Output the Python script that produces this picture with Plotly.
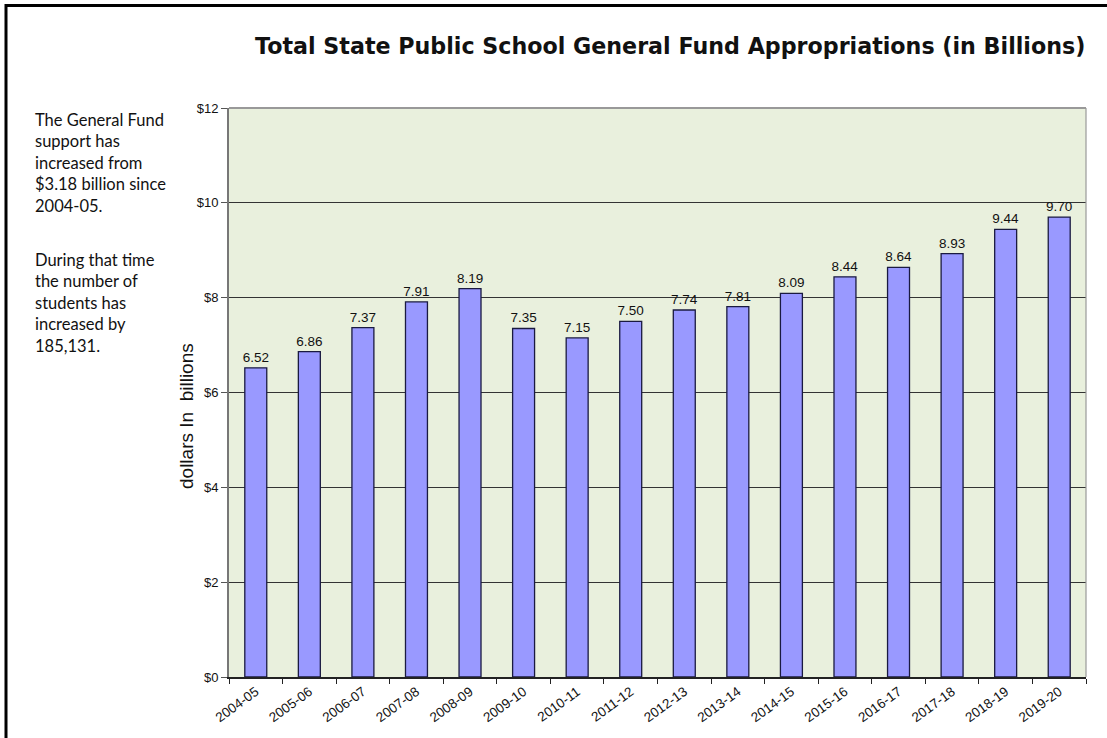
import plotly.graph_objects as go

years = ["2004-05", "2005-06", "2006-07", "2007-08", "2008-09", "2009-10", "2010-11",
         "2011-12", "2012-13", "2013-14", "2014-15", "2015-16", "2016-17", "2017-18",
         "2018-19", "2019-20"]
values = [6.52, 6.86, 7.37, 7.91, 8.19, 7.35, 7.15, 7.50, 7.74, 7.81, 8.09, 8.44,
          8.64, 8.93, 9.44, 9.70]
y_ticks = [0, 2, 4, 6, 8, 10, 12]
y_tick_labels = ["$0", "$2", "$4", "$6", "$8", "$10", "$12"]

W, H = 1107, 738
L, R, T, B = 229, 21, 108, 61
pw, ph = W - L - R, H - T - B

def px(x):
    return (x - L) / pw

def py(y):
    return 1 - (y - T) / ph

fig = go.Figure()
fig.add_trace(go.Bar(
    x=years, y=values,
    marker=dict(color="#9999FF", line=dict(color="#1a1a40", width=1.3)),
    text=[f"{v:.2f}" for v in values], textposition="outside",
    textfont=dict(family="Liberation Sans, Arial", size=13.5, color="#111111"),
    constraintext="none",
    cliponaxis=False,
))

fig.update_layout(
    width=W, height=H,
    margin=dict(l=L, r=R, t=T, b=B),
    paper_bgcolor="white", plot_bgcolor="#E9F0DD",
    bargap=0.59, showlegend=False,
    font=dict(family="Liberation Sans, Arial", color="#111111"),
    xaxis=dict(type="category", tickson="boundaries", ticks="outside", ticklen=5,
               tickcolor="#222222", tickangle=-36, showgrid=False,
               tickfont=dict(size=13.5), showline=True, linecolor="#222222", linewidth=1.5,
               mirror=False),
    yaxis=dict(range=[0, 12], tickvals=y_ticks, ticktext=y_tick_labels,
               ticks="outside", ticklen=6, tickcolor="#555555",
               showgrid=True, gridcolor="#333333", gridwidth=1,
               tickfont=dict(size=13), showline=True, linecolor="#777777", linewidth=2,
               zeroline=False),
)

shapes = [
    dict(type="line", xref="paper", yref="paper", x0=px(1086), x1=px(1086), y0=0, y1=1,
         line=dict(color="#999999", width=1.2)),
    dict(type="line", xref="paper", yref="paper", x0=0, x1=1, y0=1, y1=1,
         line=dict(color="#999999", width=2)),
    dict(type="line", xref="paper", yref="paper", x0=px(6), x1=px(6), y0=py(4), y1=py(740),
         line=dict(color="black", width=3)),
    dict(type="line", xref="paper", yref="paper", x0=px(5), x1=px(1110), y0=py(5.5), y1=py(5.5),
         line=dict(color="black", width=3)),
]
fig.update_layout(shapes=shapes)

gothic = "Lato, sans-serif"
ann = [
    dict(text="<b>Total State Public School General Fund Appropriations (in Billions)</b>",
         x=px(670), y=py(46), xref="paper", yref="paper", showarrow=False,
         font=dict(family="DejaVu Sans", size=22.2, color="#111111"), xanchor="center", yanchor="middle"),
    dict(text="The General Fund<br>support has<br>increased from<br>$3.18 billion since<br>2004-05.",
         x=px(33), y=py(108), xref="paper", yref="paper", showarrow=False, align="left",
         xanchor="left", yanchor="top",
         font=dict(family=gothic, size=16.5, color="#111111")),
    dict(text="During that time<br>the number of<br>students has<br>increased by<br>185,131.",
         x=px(33), y=py(248), xref="paper", yref="paper", showarrow=False, align="left",
         xanchor="left", yanchor="top",
         font=dict(family=gothic, size=16.5, color="#111111")),
    dict(text="dollars In  billions", x=px(186), y=py(416), xref="paper", yref="paper",
         showarrow=False, textangle=-90, xanchor="center", yanchor="middle",
         font=dict(family="Liberation Sans, Arial", size=19, color="#111111")),
]
fig.update_layout(annotations=ann)

fig.write_html("out.html")
